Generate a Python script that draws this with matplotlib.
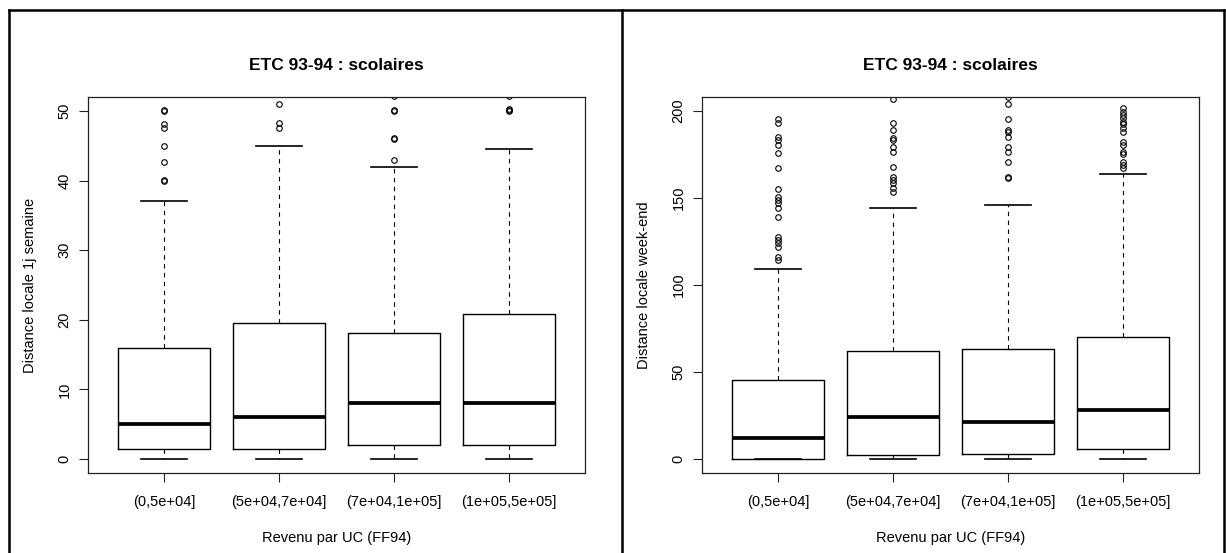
import matplotlib
matplotlib.use("Agg")
import matplotlib.pyplot as plt
from matplotlib.lines import Line2D

plt.rcParams['font.family'] = ['Liberation Sans', 'DejaVu Sans']

# ---------------- data ----------------
categories = ["(0,5e+04]", "(5e+04,7e+04]", "(7e+04,1e+05]", "(1e+05,5e+05]"]
title = "ETC 93-94 : scolaires"
xlabel = "Revenu par UC (FF94)"

# left panel: distance locale 1j semaine
sem_ylabel = "Distance locale 1j semaine"
sem_whislo = [0, 0, 0, 0]
sem_q1 = [1.5, 1.5, 2.0, 2.0]
sem_med = [5.0, 6.0, 8.0, 8.0]
sem_q3 = [16.0, 19.5, 18.1, 20.8]
sem_whishi = [37.0, 45.0, 42.0, 44.5]
sem_fliers = [
    [50.0, 50.1, 48.1, 47.6, 45.0, 42.7, 40.1, 40.0],
    [51.0, 48.2, 47.6],
    [52.2, 50.0, 50.1, 46.0, 46.1, 43.0],
    [52.2, 50.3, 50.0, 50.1],
]
sem_yticks = [0, 10, 20, 30, 40, 50]
sem_ylim = (-2, 52)

# right panel: distance locale week-end
we_ylabel = "Distance locale week-end"
we_whislo = [0, 0, 0, 0]
we_q1 = [0.0, 2.3, 2.9, 5.6]
we_med = [12.2, 24.3, 21.4, 28.2]
we_q3 = [45.4, 62.1, 63.0, 70.3]
we_whishi = [109.0, 144.4, 146.0, 163.8]
we_fliers = [
    [195.2, 192.9, 185.2, 183.3, 180.5, 175.7, 167.4, 155.2, 150.7, 148.9,
     147.0, 144.1, 139.3, 127.8, 125.9, 124.0, 122.1, 116.3, 114.4],
    [206.9, 192.9, 189.1, 184.3, 183.3, 179.5, 176.6, 168.0, 162.2, 160.3,
     158.4, 155.6, 153.6],
    [208.0, 203.8, 195.2, 189.1, 188.1, 185.2, 179.5, 176.6, 170.5, 161.7,
     161.9],
    [201.5, 199.6, 197.7, 195.8, 193.9, 192.5, 190.0, 188.1, 182.4, 180.5,
     176.6, 175.3, 170.9, 169.0, 167.4],
]
we_yticks = [0, 50, 100, 150, 200]
we_ylim = (-8, 208)

# ---------------- figure ----------------
W, H = 1226, 553
fig = plt.figure(figsize=(W / 100, H / 100), dpi=100)
fig.patch.set_facecolor('white')

ax_h = 376 / H
ax_w = 497 / W
ax_b = 1 - 473 / H
ax_left = fig.add_axes([88 / W, ax_b, ax_w, ax_h])
ax_right = fig.add_axes([702 / W, ax_b, ax_w, ax_h])


def make_stats(lo, q1, med, q3, hi, fl):
    out = []
    for i in range(len(lo)):
        out.append(dict(whislo=lo[i], q1=q1[i], med=med[i], q3=q3[i],
                        whishi=hi[i], fliers=fl[i], label=categories[i]))
    return out


def draw(ax, stats, ylabel, yticks, ylim):
    ax.bxp(stats, positions=range(1, len(stats) + 1), widths=0.8,
           capwidths=0.4, showfliers=True,
           boxprops=dict(color='black', linewidth=1.0),
           medianprops=dict(color='black', linewidth=2.7, solid_capstyle='butt'),
           whiskerprops=dict(color='black', linewidth=0.8,
                             linestyle=(0, (4, 4))),
           capprops=dict(color='black', linewidth=1.2),
           flierprops=dict(marker='o', markerfacecolor='none',
                           markeredgecolor='black', markersize=4.0,
                           markeredgewidth=0.8, linestyle='none'))
    ax.set_xlim(0.34, 4.66)
    ax.set_ylim(*ylim)
    ax.set_yticks(yticks)
    ax.set_xticks(range(1, len(categories) + 1))
    ax.set_xticklabels(categories)
    for s in ax.spines.values():
        s.set_color('#222222')
        s.set_linewidth(0.9)
    ax.tick_params(axis='both', direction='out', length=6.3, width=0.8,
                   color='#222222', labelsize=10.5)
    ax.tick_params(axis='x', pad=9.5)
    ax.tick_params(axis='y', pad=5.5)
    for lab in ax.get_yticklabels():
        lab.set_rotation(90)
        lab.set_va('center')
    ax.set_title(title, fontsize=12.5, fontweight='bold',
                 y=1 + 32 / 376, va='center', pad=0)
    ax.set_xlabel(xlabel, fontsize=10.5, va='center')
    ax.xaxis.set_label_coords(0.5, -65 / 376)
    ax.set_ylabel(ylabel, fontsize=10.5, va='center', ha='center')
    ax.yaxis.set_label_coords(-58 / 497, 0.5)


draw(ax_left, make_stats(sem_whislo, sem_q1, sem_med, sem_q3, sem_whishi,
                         sem_fliers), sem_ylabel, sem_yticks, sem_ylim)
draw(ax_right, make_stats(we_whislo, we_q1, we_med, we_q3, we_whishi,
                          we_fliers), we_ylabel, we_yticks, we_ylim)

# outer frame (figure-level decoration)
def px_line(x0, y0, x1, y1):
    fig.add_artist(Line2D([x0 / W, x1 / W], [1 - y0 / H, 1 - y1 / H],
                          transform=fig.transFigure, color='black',
                          linewidth=1.8, solid_capstyle='projecting'))

px_line(9, 10, 1224, 10)
px_line(9, 10, 9, H)
px_line(622, 10, 622, H)
px_line(1224, 10, 1224, H)

fig.savefig("out.png", dpi=100, facecolor='white')
